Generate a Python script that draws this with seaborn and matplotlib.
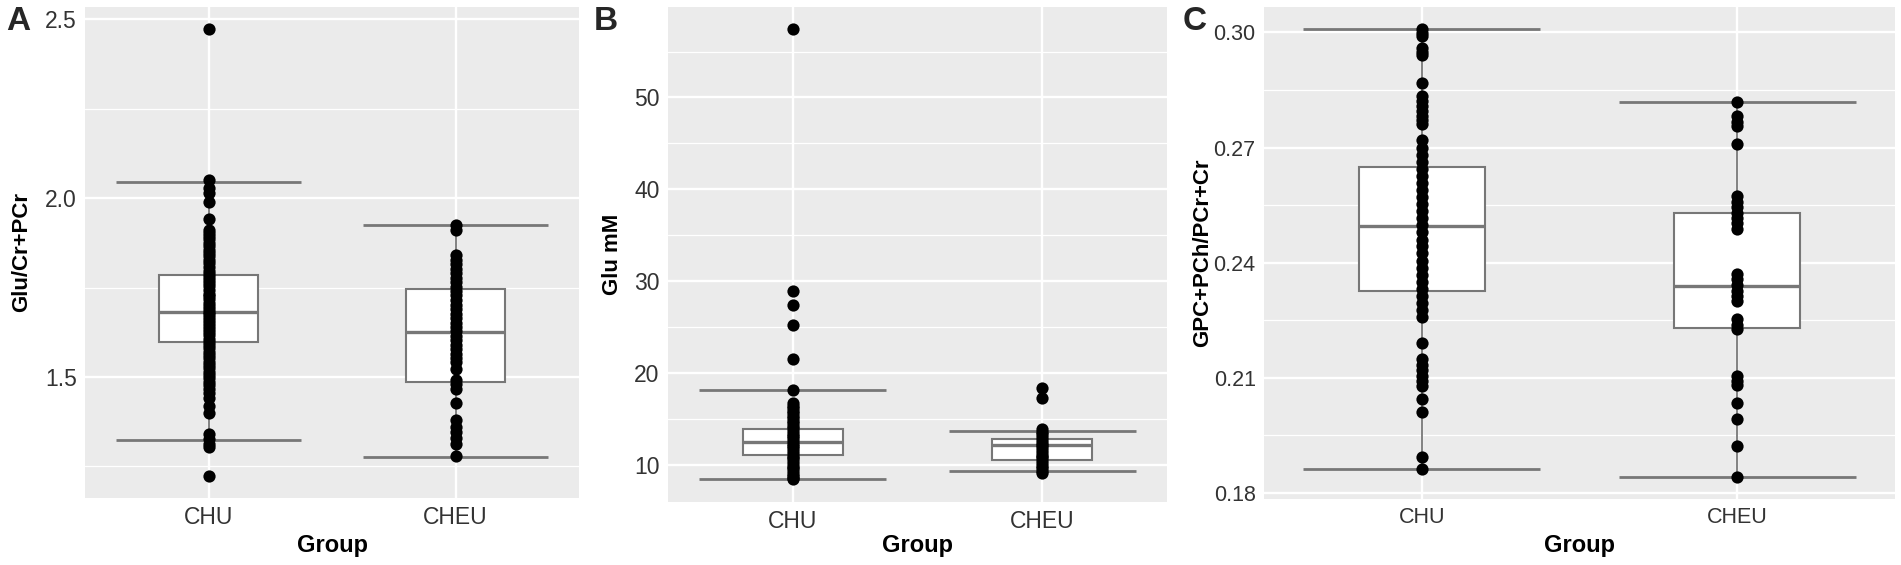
import pandas as pd
import seaborn as sns
import matplotlib.pyplot as plt
from matplotlib import font_manager
from matplotlib.ticker import MultipleLocator, FormatStrFormatter

groups = ["CHU", "CHEU"]

# A: Glu/Cr+PCr
a_chu = [2.472, 2.050, 2.027, 2.013, 1.990, 1.943, 1.911, 1.902, 1.893, 1.885, 1.874,
         1.866, 1.855, 1.846, 1.838, 1.827, 1.819, 1.808, 1.797, 1.788, 1.779, 1.771,
         1.762, 1.753, 1.744, 1.733, 1.726, 1.717, 1.708, 1.699, 1.690, 1.683, 1.676,
         1.668, 1.660, 1.651, 1.643, 1.634, 1.625, 1.616, 1.607, 1.598, 1.589, 1.580,
         1.571, 1.562, 1.552, 1.543, 1.534, 1.525, 1.514, 1.505, 1.496, 1.487, 1.477,
         1.466, 1.456, 1.442, 1.419, 1.400, 1.340, 1.326, 1.312, 1.305, 1.224]
a_cheu = [1.926, 1.911, 1.840, 1.828, 1.815, 1.803, 1.790, 1.778, 1.766, 1.752, 1.740,
          1.728, 1.715, 1.702, 1.690, 1.677, 1.665, 1.652, 1.640, 1.628, 1.615, 1.602,
          1.590, 1.578, 1.565, 1.553, 1.542, 1.522, 1.492, 1.480, 1.467, 1.426, 1.381,
          1.361, 1.345, 1.328, 1.312, 1.278]
a_q1 = [1.597, 1.485]
a_med = [1.682, 1.627]
a_q3 = [1.784, 1.745]
a_whislo = [1.312, 1.278]
a_whishi = [2.050, 1.926]
a_ref_lo = [1.324, 1.276]
a_ref_hi = [2.046, 1.924]

# B: Glu mM
b_chu = [57.4, 28.9, 27.4, 25.2, 21.5, 18.2, 16.7, 16.4, 16.2, 15.9, 15.6, 15.3, 15.1,
         14.8, 14.5, 14.2, 14.0, 13.7, 13.4, 13.1, 12.9, 12.6, 12.3, 12.0, 11.8, 11.5,
         11.2, 10.9, 10.7, 10.4, 10.1, 9.8, 9.6, 9.3, 9.0, 8.8, 8.6, 8.4]
b_cheu = [18.4, 17.3, 13.9, 13.6, 13.3, 13.0, 12.7, 12.4, 12.2, 11.9, 11.6, 11.3, 11.0,
          10.8, 10.5, 10.2, 9.9, 9.6, 9.3, 9.1]
b_q1 = [11.1, 10.5]
b_med = [12.5, 12.2]
b_q3 = [13.9, 12.8]
b_whislo = [8.4, 9.1]
b_whishi = [16.7, 13.9]
b_ref_lo = [8.5, 9.3]
b_ref_hi = [18.2, 13.7]

# C: GPC+PCh/PCr+Cr
c_chu = [0.3008, 0.2998, 0.2991, 0.2960, 0.2949, 0.2941, 0.2868, 0.2833, 0.2820, 0.2809,
         0.2795, 0.2783, 0.2771, 0.2762, 0.2719, 0.2700, 0.2681, 0.2663, 0.2645, 0.2626,
         0.2608, 0.2590, 0.2571, 0.2553, 0.2535, 0.2516, 0.2497, 0.2479, 0.2460, 0.2442,
         0.2424, 0.2405, 0.2387, 0.2368, 0.2350, 0.2332, 0.2313, 0.2295, 0.2277, 0.2258,
         0.2190, 0.2148, 0.2134, 0.2120, 0.2105, 0.2091, 0.2077, 0.2044, 0.2011, 0.1893,
         0.1862]
c_cheu = [0.2819, 0.2781, 0.2767, 0.2757, 0.2710, 0.2573, 0.2559, 0.2545, 0.2530, 0.2516,
          0.2502, 0.2488, 0.2370, 0.2356, 0.2341, 0.2327, 0.2313, 0.2299, 0.2252, 0.2237,
          0.2228, 0.2105, 0.2091, 0.2082, 0.2034, 0.1992, 0.1923, 0.1842]
c_q1 = [0.2327, 0.2230]
c_med = [0.2495, 0.2339]
c_q3 = [0.2648, 0.2529]
c_whislo = [0.1862, 0.1842]
c_whishi = [0.3008, 0.2819]
c_ref_lo = [0.1861, 0.1842]
c_ref_hi = [0.3008, 0.2819]

sns.set_theme(style="darkgrid", rc={"axes.facecolor": "#EBEBEB", "grid.color": "white"})
plt.rcParams['font.family'] = ['Liberation Sans', 'DejaVu Sans']

installed = {f.name for f in font_manager.fontManager.ttflist}
narrow = 'Liberation Sans Narrow' in installed

GRAY = "#777777"
fig = plt.figure(figsize=(19.01, 5.65), dpi=100)

panels = [
    # letter, ylabel, chu, cheu, q1, med, q3, wlo, whi, rlo, rhi, rect, major, minor, fmt, ylab_x, xlab_y, letter_x
    ("A", "Glu/Cr+PCr", a_chu, a_cheu, a_q1, a_med, a_q3, a_whislo, a_whishi, a_ref_lo, a_ref_hi,
     [85, 498, 579, 7], 0.5, 0.25, '%.1f', -0.128, -0.096, 18),
    ("B", "Glu mM", b_chu, b_cheu, b_q1, b_med, b_q3, b_whislo, b_whishi, b_ref_lo, b_ref_hi,
     [668, 502, 1167, 7], 10, 5, '%d', -0.112, -0.087, 606),
    ("C", "GPC+PCh/PCr+Cr", c_chu, c_cheu, c_q1, c_med, c_q3, c_whislo, c_whishi, c_ref_lo, c_ref_hi,
     [1264, 499, 1895, 7], 0.03, 0.015, '%.2f', -0.098, -0.094, 1195),
]

W, H = 1901, 565
for (letter, ylab, chu, cheu, q1, med, q3, wlo, whi, rlo, rhi, rect,
     major, minor, fmt, ylab_x, xlab_y, letter_x) in panels:
    l, b, r, t = rect
    ax = fig.add_axes([l / W, (H - b) / H, (r - l) / W, (b - t) / H])

    df = pd.DataFrame({"Group": ["CHU"] * len(chu) + ["CHEU"] * len(cheu),
                       "value": chu + cheu})

    stats = [dict(q1=q1[i], med=med[i], q3=q3[i], whislo=wlo[i], whishi=whi[i], fliers=[])
             for i in range(2)]
    ax.bxp(stats, positions=[0, 1], widths=0.4, patch_artist=True, showfliers=False,
           showcaps=False, manage_ticks=False, zorder=2,
           boxprops=dict(facecolor="white", edgecolor=GRAY, linewidth=1.5),
           medianprops=dict(color=GRAY, linewidth=2.4),
           whiskerprops=dict(color=GRAY, linewidth=1.3))
    ax.hlines(rlo, [-0.375, 0.625], [0.375, 1.375], color=GRAY, linewidth=2, zorder=2.5)
    ax.hlines(rhi, [-0.375, 0.625], [0.375, 1.375], color=GRAY, linewidth=2, zorder=2.5)

    sns.stripplot(data=df, x="Group", y="value", order=groups, jitter=False,
                  color="black", size=8.8, ax=ax, zorder=3)

    vals = chu + cheu + rlo + rhi
    lo, hi = min(vals), max(vals)
    pad = 0.05 * (hi - lo)
    ax.set_ylim(lo - pad, hi + pad)
    ax.set_xlim(-0.5, 1.5)

    ax.yaxis.set_major_locator(MultipleLocator(major))
    ax.yaxis.set_minor_locator(MultipleLocator(minor))
    ax.yaxis.set_major_formatter(FormatStrFormatter(fmt))
    ax.grid(True, which="major", color="white", linewidth=1.7)
    ax.grid(True, which="minor", axis="y", color="white", linewidth=0.9)
    ax.xaxis.grid(True, which="major")
    ax.set_axisbelow(True)
    for s in ax.spines.values():
        s.set_visible(False)

    if letter == "C":
        fam = ['Liberation Sans Narrow', 'Liberation Sans'] if narrow else ['Liberation Sans']
        tsize = 16.5 if narrow else 15.5
    else:
        fam = ['Liberation Sans']
        tsize = 16.5
    ax.tick_params(axis="both", which="major", length=4, width=1.1, color="#333333",
                   labelcolor="#333333", labelsize=tsize, pad=2)
    ax.tick_params(which="minor", length=0)
    for lab in ax.get_xticklabels() + ax.get_yticklabels():
        lab.set_family(fam)

    ax.set_xlabel("Group", fontsize=17, fontweight="bold", color="black", va="center")
    ax.xaxis.set_label_coords(0.5, xlab_y)
    ax.set_ylabel(ylab, fontsize=16, fontweight="bold", color="black", va="center")
    ax.yaxis.set_label_coords(ylab_x, 0.5)

    fig.text(letter_x / W, 1 - 21 / H, letter, fontsize=24, fontweight="bold",
             ha="center", va="center")

fig.savefig("out.png", dpi=100)
